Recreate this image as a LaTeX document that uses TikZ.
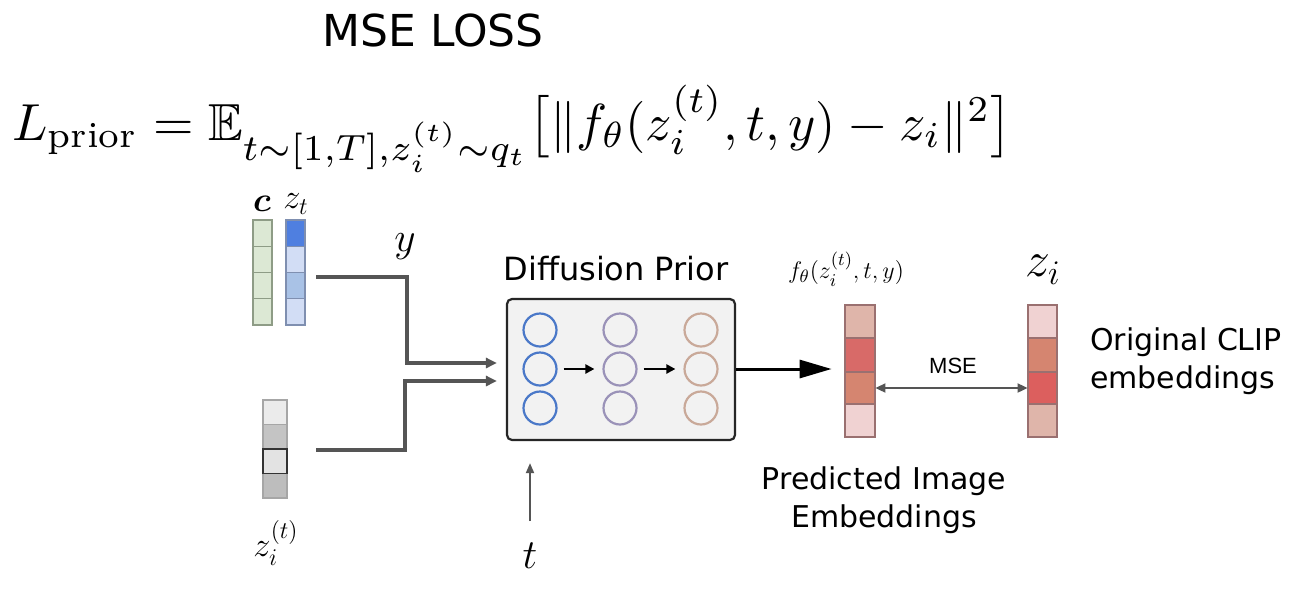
\documentclass[tikz,border=0pt]{standalone}
\usepackage{amsmath,amssymb}
\usepackage{fontspec}
\usetikzlibrary{arrows.meta}
\newfontfamily\handfont{DejaVu Sans}
\newfontfamily\arialfont{Liberation Sans}
\definecolor{cgreen}{HTML}{DCE8D4}
\definecolor{cgreenb}{HTML}{8E9C86}
\definecolor{zblue}{HTML}{4F7FE0}
\definecolor{zlight}{HTML}{D2DDF5}
\definecolor{zmid}{HTML}{A9C2E6}
\definecolor{zblueb}{HTML}{7F8FB0}
\definecolor{ga}{HTML}{EBEBEB}
\definecolor{gb}{HTML}{C4C4C4}
\definecolor{gc}{HTML}{E3E3E3}
\definecolor{gd}{HTML}{BDBDBD}
\definecolor{ra}{HTML}{DFB5AA}
\definecolor{rb}{HTML}{D86A68}
\definecolor{rc}{HTML}{D58570}
\definecolor{rd}{HTML}{F0D2D2}
\definecolor{rborder}{HTML}{9A7070}
\definecolor{cblue}{HTML}{4A78C8}
\definecolor{cpurple}{HTML}{9A92B8}
\definecolor{ctan}{HTML}{C9A999}
\definecolor{conngray}{HTML}{555555}
\begin{document}
\begin{tikzpicture}[x=0.5pt,y=-0.5pt,
  conn/.style={draw=conngray,line width=1.7pt,-{Triangle[length=5.5pt,width=5pt]}},
  thinarr/.style={draw=conngray,line width=0.9pt},
  vecbox/.style={draw=none,minimum width=#1,inner sep=0pt},
  neuron/.style={circle,draw=#1,line width=1.1pt,minimum size=16.5pt,inner sep=0pt},
  hand/.style={font=\handfont\fontsize{#1}{19pt}\selectfont},
  mathlab/.style={font=\fontsize{#1}{#1}\selectfont}]
\useasboundingbox (0,0) rectangle (1312,590);
\fill[white] (0,0) rectangle (1312,590);

% title and formula
\node[hand=22pt,inner sep=0pt] (title) at (433,30) {MSE LOSS};
\node[anchor=base west,inner sep=0pt] (formula) at (12,140)
  {\resizebox{500pt}{!}{$L_{\text{prior}} = \mathbb{E}_{t\sim[1,T],z_i^{(t)}\sim q_t}\big[\|f_\theta(z_i^{(t)},t,y)-z_i\|^2\big]$}};

% c vector
\foreach \i in {0,1,2,3}{
  \filldraw[fill=cgreen,draw=cgreenb,line width=0.6pt] (253,220+26.25*\i) rectangle (272,220+26.25*\i+26.25);}
\node[vecbox,minimum width=9.5pt,minimum height=52.5pt] (cvec) at (262.5,272.5) {};
% z_t vector
\filldraw[fill=zblue,draw=zblueb,line width=0.6pt] (286,220) rectangle (305,246.25);
\filldraw[fill=zlight,draw=zblueb,line width=0.6pt] (286,246.25) rectangle (305,272.5);
\filldraw[fill=zmid,draw=zblueb,line width=0.6pt] (286,272.5) rectangle (305,298.75);
\filldraw[fill=zlight,draw=zblueb,line width=0.6pt] (286,298.75) rectangle (305,325);
\node[vecbox,minimum width=9.5pt,minimum height=52.5pt] (ztvec) at (295.5,272.5) {};
\node[mathlab=17pt] (clab) at (262,204) {$\boldsymbol{c}$};
\node[mathlab=17pt] (ztlab) at (296,204) {$z_t$};

% z_i^(t) vector
\filldraw[fill=ga,draw=gray!70,line width=0.6pt] (263,400) rectangle (287,424.5);
\filldraw[fill=gb,draw=gray!70,line width=0.6pt] (263,424.5) rectangle (287,449);
\filldraw[fill=gd,draw=gray!70,line width=0.6pt] (263,473.5) rectangle (287,498);
\filldraw[fill=gc,draw=black!80,line width=0.9pt] (263,449) rectangle (287,473.5);
\node[vecbox,minimum width=12pt,minimum height=49pt] (zivec) at (275,449) {};
\node[mathlab=18pt] (zitlab) at (276,543) {$z_i^{(t)}$};

% connectors into the prior
\node[mathlab=21pt] (ylab) at (405,247) {$y$};
\node[draw=black!85,fill=black!5,line width=1.1pt,rounded corners=2.5pt,minimum width=114pt,minimum height=70.5pt,inner sep=0pt] (prior) at (621,369.5) {};
\coordinate (ystart) at (316,277);
\coordinate (ybend) at (407,277);
\coordinate (zstart) at (316,450);
\coordinate (zbend) at (405,450);
\draw[conn,shorten >=4.5pt] (ystart) -- (ybend) |- (prior.west |- 0,363);
\draw[conn,shorten >=4.5pt] (zstart) -- (zbend) |- (prior.west |- 0,381);
\node[hand=16pt] (dplab) at (616,269) {Diffusion Prior};

% neurons
\foreach \r [count=\k] in {330,369,408}{
  \node[neuron=cblue] (n1\k) at (540,\r) {};
  \node[neuron=cpurple] (n2\k) at (620,\r) {};
  \node[neuron=ctan] (n3\k) at (701,\r) {};}
\draw[line width=1.2pt,-{Triangle[length=4.5pt,width=4.5pt]},shorten <=3pt,shorten >=4pt] (n12) -- (n22);
\draw[line width=1.2pt,-{Triangle[length=4.5pt,width=4.5pt]},shorten <=3pt,shorten >=4pt] (n22) -- (n32);

% t arrow
\node[mathlab=20pt] (tlab) at (530,556) {$t$};
\coordinate (tstart) at (530,521);
\draw[thinarr,-{Triangle[length=5pt,width=4pt]},shorten >=11pt] (tstart) -- (prior.south -| tstart);

% predicted embedding
\filldraw[fill=ra,draw=rborder,line width=0.6pt] (845,305) rectangle (875,338);
\filldraw[fill=rb,draw=rborder,line width=0.6pt] (845,338) rectangle (875,372);
\filldraw[fill=rc,draw=rborder,line width=0.6pt] (845,372) rectangle (875,404);
\filldraw[fill=rd,draw=rborder,line width=0.6pt] (845,404) rectangle (875,437);
\node[vecbox,minimum width=15pt,minimum height=66pt] (pred) at (860,371) {};
\node[mathlab=13pt] (flab) at (846,269) {$f_\theta(z_i^{(t)},t,y)$};
\draw[black,line width=1.5pt,-{Triangle[length=16pt,width=9pt]},shorten >=6.5pt] (prior.east |- 0,369) -- (pred.west |- 0,369);

% original embedding
\filldraw[fill=rd,draw=rborder,line width=0.6pt] (1028,305) rectangle (1057,338);
\filldraw[fill=rc,draw=rborder,line width=0.6pt] (1028,338) rectangle (1057,372);
\filldraw[fill=rb!90!red,draw=rborder,line width=0.6pt] (1028,372) rectangle (1057,404);
\filldraw[fill=ra,draw=rborder,line width=0.6pt] (1028,404) rectangle (1057,437);
\node[vecbox,minimum width=14.5pt,minimum height=66pt] (orig) at (1042.5,371) {};
\node[mathlab=24pt] (zilab) at (1043,270) {$z_i$};

% MSE double arrow
\draw[thinarr,{Triangle[length=5pt,width=4.5pt]}-{Triangle[length=5pt,width=4.5pt]}] (pred.east |- 0,388) -- (orig.west |- 0,388);
\node[font=\arialfont\fontsize{11pt}{11pt}\selectfont] (mselab) at (953,366) {MSE};

% captions
\node[hand=15pt,align=left,anchor=west] (origlab) at (1083,361) {Original CLIP\\embeddings};
\node[hand=15pt,align=center] (predlab) at (884,500) {Predicted Image\\Embeddings};
\end{tikzpicture}
\end{document}
